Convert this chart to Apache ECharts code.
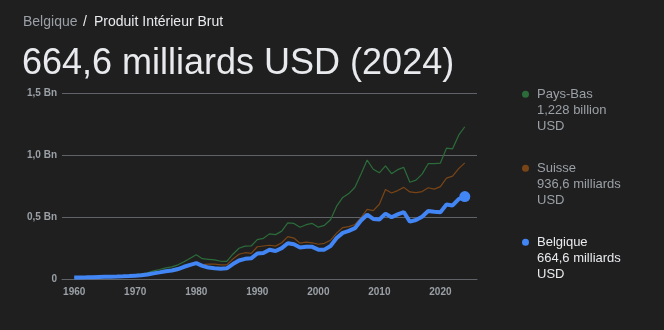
<!DOCTYPE html>
<html>
<head>
<meta charset="utf-8">
<script src="https://cdn.jsdelivr.net/npm/echarts@6/dist/echarts.min.js"></script>
<style>
  html, body { margin: 0; padding: 0; background: #1f1f1f; }
  #chart { width: 664px; height: 330px; }
</style>
</head>
<body>
<div id="chart"></div>
<script>
// Years 1960..2024
var years = [];
for (var y = 1960; y <= 2024; y++) years.push(y);

// GDP, trillions USD
var paysBas = [
  0.0123, 0.0133, 0.0144, 0.0156, 0.0182, 0.0201, 0.0219, 0.0240, 0.0263, 0.0294,
  0.0360, 0.0416, 0.0504, 0.0655, 0.0769, 0.0900, 0.0980, 0.1143, 0.1389, 0.1680,
  0.1960, 0.1640, 0.1590, 0.1540, 0.1430, 0.1420, 0.2000, 0.2480, 0.2650, 0.2660,
  0.3180, 0.3280, 0.3640, 0.3580, 0.3860, 0.4530, 0.4480, 0.4170, 0.4380, 0.4480,
  0.4180, 0.4330, 0.4780, 0.5870, 0.6580, 0.6890, 0.7400, 0.8470, 0.9590, 0.8850,
  0.8560, 0.9130, 0.8490, 0.8820, 0.9000, 0.7800, 0.7970, 0.8460, 0.9300, 0.9310,
  0.9350, 1.0550, 1.0500, 1.1600, 1.2280
];
var suisse = [
  0.0095, 0.0107, 0.0118, 0.0129, 0.0141, 0.0150, 0.0160, 0.0171, 0.0183, 0.0199,
  0.0216, 0.0269, 0.0335, 0.0444, 0.0510, 0.0605, 0.0635, 0.0678, 0.0942, 0.1047,
  0.1190, 0.1165, 0.1200, 0.1206, 0.1136, 0.1140, 0.1617, 0.1996, 0.2120, 0.2073,
  0.2600, 0.2660, 0.2720, 0.2650, 0.2920, 0.3420, 0.3300, 0.2890, 0.2970, 0.2920,
  0.2800, 0.2880, 0.3130, 0.3700, 0.4150, 0.4220, 0.4400, 0.4950, 0.5610, 0.5510,
  0.6030, 0.7210, 0.6940, 0.7130, 0.7390, 0.7020, 0.6960, 0.7050, 0.7360, 0.7250,
  0.7450, 0.8140, 0.8300, 0.8900, 0.9366
];
var belgique = [
  0.0117, 0.0124, 0.0133, 0.0143, 0.0160, 0.0174, 0.0187, 0.0200, 0.0214, 0.0234,
  0.0268, 0.0296, 0.0357, 0.0455, 0.0533, 0.0627, 0.0682, 0.0802, 0.0986, 0.1143,
  0.1275, 0.1061, 0.0921, 0.0869, 0.0835, 0.0864, 0.1204, 0.1495, 0.1626, 0.1665,
  0.2053, 0.2101, 0.2356, 0.2260, 0.2486, 0.2885, 0.2801, 0.2547, 0.2595, 0.2592,
  0.2368, 0.2368, 0.2660, 0.3300, 0.3720, 0.3880, 0.4098, 0.4718, 0.5186, 0.4846,
  0.4800, 0.5270, 0.4979, 0.5210, 0.5400, 0.4623, 0.4760, 0.5025, 0.5480, 0.5420,
  0.5380, 0.6008, 0.5934, 0.6448, 0.6646
];

var seriesNames = ['Pays-Bas', 'Suisse', 'Belgique'];
var seriesValueLabels = ['1,228 billion', '936,6 milliards', '664,6 milliards'];
var seriesColors = ['#2b6d3a', '#7a4516', '#4285f4'];
var legendTextColors = ['#9aa0a6', '#9aa0a6', '#e8eaed'];
var yTickLabels = ['0', '0,5 Bn', '1,0 Bn', '1,5 Bn'];

function pairs(arr) { return arr.map(function (v, i) { return [years[i], v]; }); }

var FONT = '"Liberation Sans", Arial, sans-serif';
var chart = echarts.init(document.getElementById('chart'), null, { renderer: 'canvas' });

var graphics = [
  { type: 'text', left: 23, top: 15, style: { text: 'Belgique', fill: '#9aa0a6', font: '14px ' + FONT } },
  { type: 'text', left: 83, top: 15, style: { text: '/', fill: '#e8eaed', font: '14px ' + FONT } },
  { type: 'text', left: 94, top: 15, style: { text: 'Produit Intérieur Brut', fill: '#e8eaed', font: '14px ' + FONT } },
  { type: 'text', left: 22, top: 46, style: { text: '664,6 milliards USD (2024)', fill: '#e8eaed', font: '36px ' + FONT } }
];
var legendTop = [86, 160, 234];
for (var i = 0; i < seriesNames.length; i++) {
  graphics.push({ type: 'circle', shape: { cx: 525.5, cy: legendTop[i] + 8.3, r: 3.5 }, style: { fill: seriesColors[i] } });
  graphics.push({ type: 'text', x: 537, y: legendTop[i], style: {
    text: seriesNames[i] + '\n' + seriesValueLabels[i] + '\nUSD',
    fill: legendTextColors[i], font: '13px ' + FONT, lineHeight: 16, verticalAlign: 'top', align: 'left'
  }});
}

var series = [
  { name: seriesNames[0], type: 'line', data: pairs(paysBas), showSymbol: false, symbol: 'none',
    lineStyle: { color: seriesColors[0], width: 1.2 }, itemStyle: { color: seriesColors[0] }, z: 2 },
  { name: seriesNames[1], type: 'line', data: pairs(suisse), showSymbol: false, symbol: 'none',
    lineStyle: { color: seriesColors[1], width: 1.2 }, itemStyle: { color: seriesColors[1] }, z: 3 },
  { name: seriesNames[2], type: 'line', symbol: 'circle', showAllSymbol: true,
    data: pairs(belgique).map(function (p, i) {
      return i === belgique.length - 1 ? { value: p, symbolSize: 11 } : { value: p, symbolSize: 0 };
    }),
    lineStyle: { color: seriesColors[2], width: 4 }, itemStyle: { color: seriesColors[2] }, z: 4 }
];

chart.setOption({
  backgroundColor: '#1f1f1f',
  animation: false,
  textStyle: { fontFamily: FONT },
  grid: { left: 62, right: 187, top: 93, bottom: 51, containLabel: false },
  xAxis: {
    type: 'value', min: 1958, max: 2026, interval: 2,
    axisLine: { show: true, lineStyle: { color: '#5f6368', width: 1 } },
    axisTick: { show: false },
    splitLine: { show: false },
    axisLabel: {
      color: '#9aa0a6', fontSize: 10, fontWeight: 'bold', margin: 8, fontFamily: FONT,
      formatter: function (v) { return v % 10 === 0 ? String(v) : ''; }
    }
  },
  yAxis: {
    type: 'value', min: 0, max: 1.5, interval: 0.5,
    axisLine: { show: false }, axisTick: { show: false },
    splitLine: { show: true, lineStyle: { color: '#5f6368', width: 1 } },
    axisLabel: {
      color: '#9aa0a6', fontSize: 10, fontWeight: 'bold', margin: 5, fontFamily: FONT,
      formatter: function (v) { return yTickLabels[Math.round(v / 0.5)]; }
    }
  },
  graphic: graphics,
  series: series
});
</script>
</body>
</html>
